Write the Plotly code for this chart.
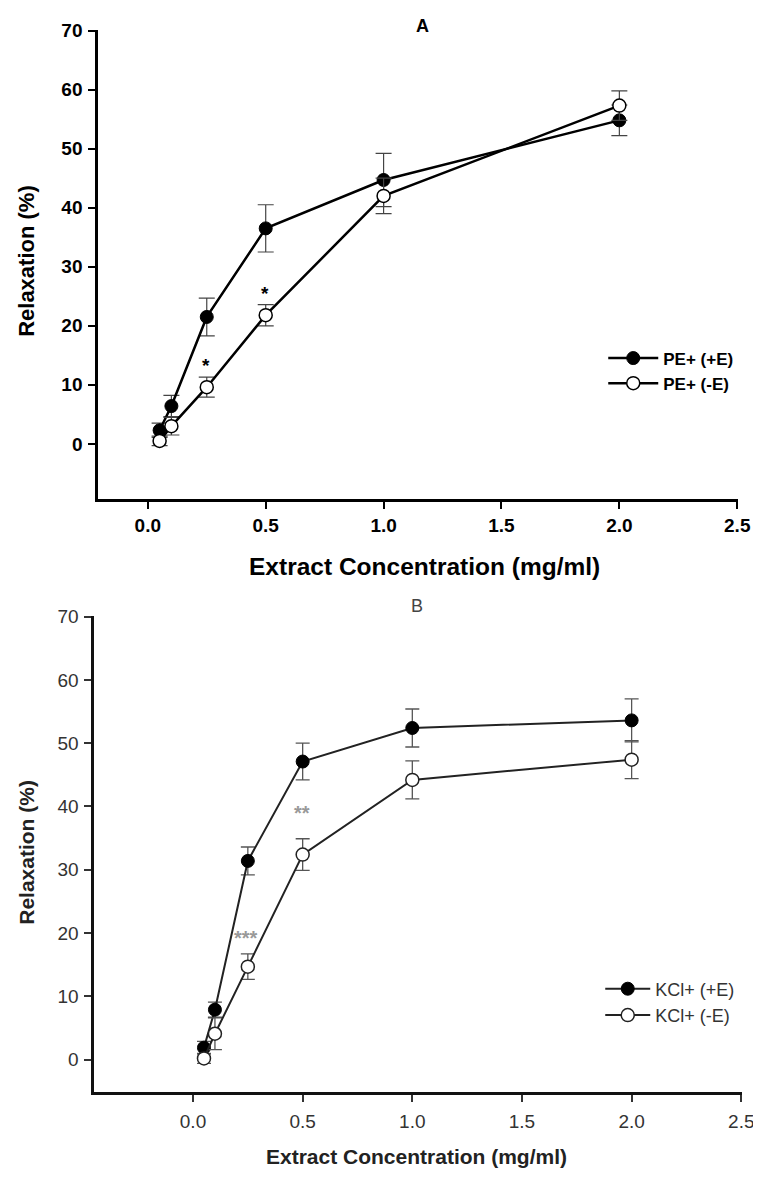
import plotly.graph_objects as go

# ---------------- data ----------------
conc = [0.05, 0.1, 0.25, 0.5, 1.0, 2.0]

pe_plus_E = [2.3, 6.4, 21.5, 36.5, 44.7, 54.8]
pe_plus_E_err = [1.2, 1.8, 3.2, 4.0, 4.5, 2.6]
pe_minus_E = [0.5, 3.0, 9.6, 21.8, 42.0, 57.3]
pe_minus_E_err = [0.8, 1.5, 1.7, 1.8, 3.0, 2.5]

kcl_plus_E = [1.9, 7.9, 31.4, 47.1, 52.4, 53.6]
kcl_plus_E_err = [1.0, 1.2, 2.2, 2.9, 3.0, 3.4]
kcl_minus_E = [0.2, 4.1, 14.7, 32.4, 44.2, 47.4]
kcl_minus_E_err = [0.8, 2.5, 2.0, 2.5, 3.0, 3.0]

x_ticks = [0.0, 0.5, 1.0, 1.5, 2.0, 2.5]
y_ticks = [0, 10, 20, 30, 40, 50, 60, 70]

sig_A_x = [0.245, 0.495]
sig_A_y = [13.2, 25.5]
sig_A_txt = ["*", "*"]
sig_B_x = [0.24, 0.495]
sig_B_y = [19.2, 39.0]
sig_B_txt = ["***", "**"]

W, H = 761, 1187
# observed mapping from figure px to the photographed page
OX, SX = 6.5, 0.985
OY, SY = 18.0, 0.99
FA = "Liberation Sans, Arial, sans-serif"


def px_x(p):
    return ((p - OX) / SX) / W


def px_y(p):
    return 1 - ((p - OY) / SY) / H


fig = go.Figure()

# Panel A traces
fig.add_trace(go.Scatter(
    x=conc, y=pe_plus_E, name="PE+ (+E)", mode="lines+markers",
    xaxis="x", yaxis="y", legend="legend",
    line=dict(color="black", width=2.5),
    marker=dict(symbol="circle", size=13, color="black", line=dict(color="black", width=1)),
    error_y=dict(type="data", array=pe_plus_E_err, visible=True, color="#444", thickness=1.2, width=8),
))
fig.add_trace(go.Scatter(
    x=conc, y=pe_minus_E, name="PE+ (-E)", mode="lines+markers",
    xaxis="x", yaxis="y", legend="legend",
    line=dict(color="black", width=2.5),
    marker=dict(symbol="circle", size=13, color="white", line=dict(color="black", width=1.5)),
    error_y=dict(type="data", array=pe_minus_E_err, visible=True, color="#444", thickness=1.2, width=8),
))

# Panel B traces
fig.add_trace(go.Scatter(
    x=conc, y=kcl_plus_E, name="KCl+ (+E)", mode="lines+markers",
    xaxis="x2", yaxis="y2", legend="legend2",
    line=dict(color="#222", width=2),
    marker=dict(symbol="circle", size=13, color="black", line=dict(color="black", width=1)),
    error_y=dict(type="data", array=kcl_plus_E_err, visible=True, color="#555", thickness=1.3, width=7),
))
fig.add_trace(go.Scatter(
    x=conc, y=kcl_minus_E, name="KCl+ (-E)", mode="lines+markers",
    xaxis="x2", yaxis="y2", legend="legend2",
    line=dict(color="#222", width=2),
    marker=dict(symbol="circle", size=13, color="white", line=dict(color="#222", width=1.5)),
    error_y=dict(type="data", array=kcl_minus_E_err, visible=True, color="#555", thickness=1.3, width=7),
))

axis_common = dict(showgrid=False, zeroline=False, showline=True, mirror=False,
                   ticks="outside", ticklen=7, tickwidth=1.5)

fig.update_layout(
    width=W, height=H,
    margin=dict(l=0, r=0, t=0, b=0),
    paper_bgcolor="white", plot_bgcolor="white",
    xaxis=dict(**axis_common, domain=[px_x(97), px_x(738)], range=[-0.21, 2.503],
               tickvals=x_ticks, ticktext=[f"{v:.1f}" for v in x_ticks],
               linecolor="black", linewidth=3, tickcolor="black",
               tickfont=dict(family=FA, size=19, color="black", weight="bold"),
               anchor="y"),
    yaxis=dict(**axis_common, domain=[px_y(498), px_y(30)], range=[-9.3, 70.1],
               tickvals=y_ticks, linecolor="black", linewidth=3, tickcolor="black",
               tickfont=dict(family=FA, size=19, color="black", weight="bold"),
               ticklabelstandoff=2, anchor="x"),
    xaxis2=dict(**axis_common, domain=[px_x(93), px_x(742)], range=[-0.45, 2.503],
                tickvals=x_ticks, ticktext=[f"{v:.1f}" for v in x_ticks],
                linecolor="#111", linewidth=3, tickcolor="#333",
                tickfont=dict(family=FA, size=19, color="#333"),
                ticklabelstandoff=3, anchor="y2"),
    yaxis2=dict(**axis_common, domain=[px_y(1090), px_y(615)], range=[-5.06, 70.1],
                tickvals=y_ticks, linecolor="#111", linewidth=3, tickcolor="#333",
                tickfont=dict(family=FA, size=19, color="#333"),
                ticklabelstandoff=2, anchor="x2"),
    legend=dict(x=px_x(603), y=px_y(340), xanchor="left", yanchor="top",
                bgcolor="rgba(0,0,0,0)", tracegroupgap=0, itemwidth=50,
                font=dict(family=FA, size=17, color="black", weight="bold")),
    legend2=dict(x=px_x(600), y=px_y(969), xanchor="left", yanchor="top",
                 bgcolor="rgba(0,0,0,0)", tracegroupgap=0, itemwidth=45,
                 font=dict(family=FA, size=18, color="#333")),
    showlegend=True,
)

annotations = [
    dict(text="<b>A</b>", x=px_x(422), y=1.0 + 4.0 / H, xref="paper", yref="paper",
         xanchor="center", yanchor="top",
         showarrow=False, font=dict(family=FA, size=18, color="black")),
    dict(text="B", x=px_x(416), y=px_y(605), xref="paper", yref="paper",
         xanchor="center", yanchor="middle",
         showarrow=False, font=dict(family=FA, size=18, color="#444")),
    dict(text="<b>Extract Concentration (mg/ml)</b>", x=px_x(424), y=px_y(566),
         xref="paper", yref="paper", xanchor="center", yanchor="middle", showarrow=False,
         font=dict(family=FA, size=24.5, color="black")),
    dict(text="<b>Relaxation (%)</b>", x=px_x(25), y=px_y(260), textangle=-90,
         xref="paper", yref="paper", xanchor="center", yanchor="middle", showarrow=False,
         font=dict(family=FA, size=22, color="black")),
    dict(text="<b>Extract Concentration (mg/ml)</b>", x=px_x(416), y=px_y(1155),
         xref="paper", yref="paper", xanchor="center", yanchor="middle", showarrow=False,
         font=dict(family=FA, size=21, color="#222")),
    dict(text="<b>Relaxation (%)</b>", x=px_x(25), y=px_y(851), textangle=-90,
         xref="paper", yref="paper", xanchor="center", yanchor="middle", showarrow=False,
         font=dict(family=FA, size=21, color="#222")),
]
for xv, yv, t in zip(sig_A_x, sig_A_y, sig_A_txt):
    annotations.append(dict(text=f"<b>{t}</b>", x=xv, y=yv, xref="x", yref="y",
                            xanchor="center", yanchor="middle",
                            showarrow=False, font=dict(family=FA, size=19, color="black")))
for xv, yv, t in zip(sig_B_x, sig_B_y, sig_B_txt):
    annotations.append(dict(text=f"<b>{t}</b>", x=xv, y=yv, xref="x2", yref="y2",
                            xanchor="center", yanchor="middle",
                            showarrow=False, font=dict(family=FA, size=20, color="#999")))
fig.update_layout(annotations=annotations)

fig.write_html("out.html")
